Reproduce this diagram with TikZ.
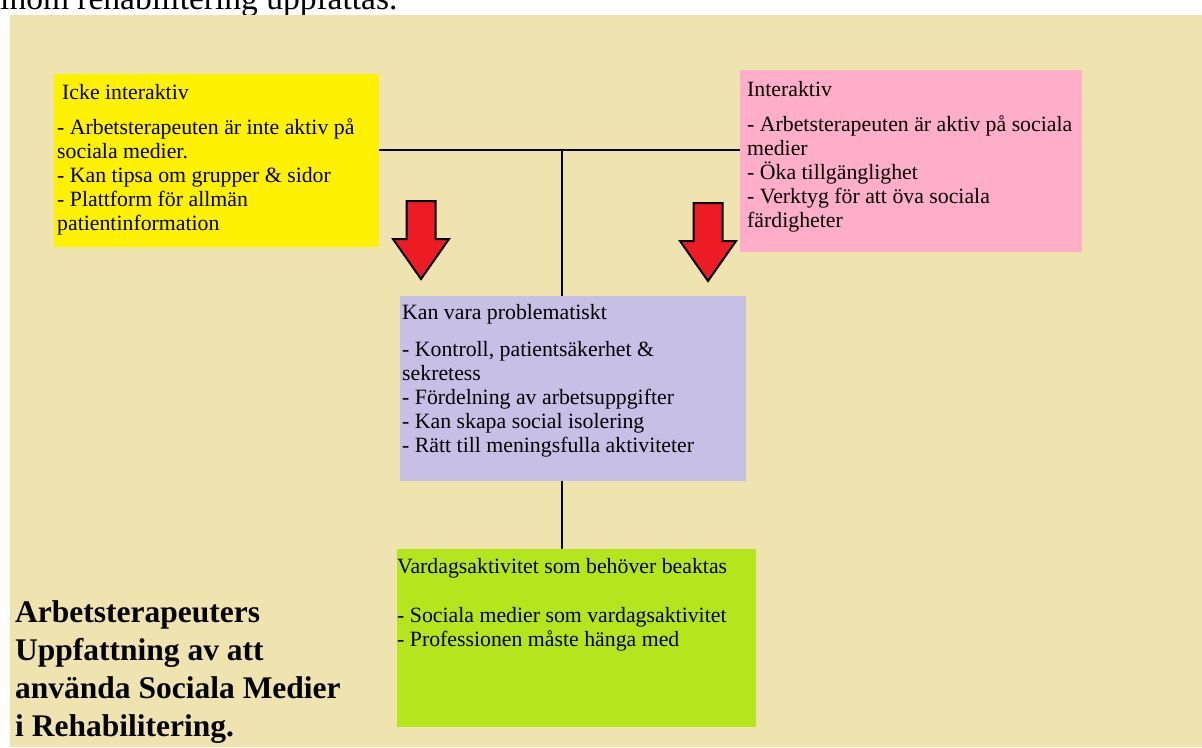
\documentclass[tikz,border=0pt]{standalone}
\usepackage{fontspec}
\setmainfont{Liberation Serif}
\usetikzlibrary{positioning,calc}

\definecolor{papper}{RGB}{239,228,176}
\definecolor{gulbox}{RGB}{255,242,0}
\definecolor{rosabox}{RGB}{255,174,201}
\definecolor{lilabox}{RGB}{200,191,231}
\definecolor{gronbox}{RGB}{181,230,29}
\definecolor{pilrod}{RGB}{237,28,36}

\tikzset{
  ruta/.style={anchor=north west,inner sep=0pt,outer sep=0pt},
  rubrik/.style={anchor=base west,inner sep=0pt,font=\fontsize{21.8}{24}\selectfont},
  % base west = baslinjen for sista raden
  punkter/.style={anchor=base west,inner sep=0pt,align=left,font=\fontsize{21.8}{24}\selectfont},
  linje/.style={line width=2.5pt},
  pil/.style={fill=pilrod,draw=black,line width=2pt,line join=miter},
}

\begin{document}
\begin{tikzpicture}[x=1pt,y=-1pt]
\useasboundingbox (0,0) rectangle (1202,747);
\node[anchor=base west,inner sep=0pt,font=\fontsize{33.5}{36}\selectfont] (topp) at (0,9) {inom rehabilitering uppfattas.};
\fill[papper] (10,15) rectangle (1202,747);

% rutorna
\node[ruta,fill=gulbox,minimum width=325pt,minimum height=173pt] (icke) at (54,74) {};
\node[ruta,fill=rosabox,minimum width=342pt,minimum height=182pt] (inter) at (740,70) {};
\node[ruta,fill=lilabox,minimum width=346pt,minimum height=185pt] (probl) at (400,296) {};
\node[ruta,fill=gronbox,minimum width=359pt,minimum height=178pt] (vardag) at (397,549) {};

% texterna
\node[rubrik] (ickerub) at (62,99) {Icke interaktiv};
\node[punkter] (ickelista) at (57,230) {- Arbetsterapeuten är inte aktiv på\\sociala medier.\\- Kan tipsa om grupper \& sidor\\- Plattform för allmän\\patientinformation};
\node[rubrik] (interrub) at (747,96) {Interaktiv};
\node[punkter] (interlista) at (747,227) {- Arbetsterapeuten är aktiv på sociala\\medier\\- Öka tillgänglighet\\- Verktyg för att öva sociala\\färdigheter};
\node[rubrik] (problrub) at (402,319) {Kan vara problematiskt};
\node[punkter] (problista) at (402,452) {- Kontroll, patientsäkerhet \&\\sekretess\\- Fördelning av arbetsuppgifter\\- Kan skapa social isolering\\- Rätt till meningsfulla aktiviteter};
\node[rubrik] (vardagrub) at (397,573) {Vardagsaktivitet som behöver beaktas};
\node[punkter] (vardaglista) at (397,646) {- Sociala medier som vardagsaktivitet\\- Professionen måste hänga med};

\node[anchor=base west,inner sep=0pt,align=left,font=\fontsize{31.5}{38}\selectfont\bfseries] (titel) at (15,736)
  {Arbetsterapeuters\\Uppfattning av att\\använda Sociala Medier\\i Rehabilitering.};

% linjer
\coordinate (nav) at (562,150);
\draw[linje] (icke.east |- nav) -- (inter.west |- nav);
\draw[linje] (nav) -- (nav |- probl.north);
\draw[linje] (nav |- probl.south) -- (nav |- vardag.north);

% pilar
\foreach \cx/\ty in {421/201,708/203}
  \draw[pil] ({\cx-14.5},\ty) -- ({\cx+14.5},\ty) -- ({\cx+14.5},{\ty+38}) -- ({\cx+28},{\ty+38})
    -- (\cx,{\ty+78}) -- ({\cx-28},{\ty+38}) -- ({\cx-14.5},{\ty+38}) -- cycle;
\end{tikzpicture}
\end{document}
